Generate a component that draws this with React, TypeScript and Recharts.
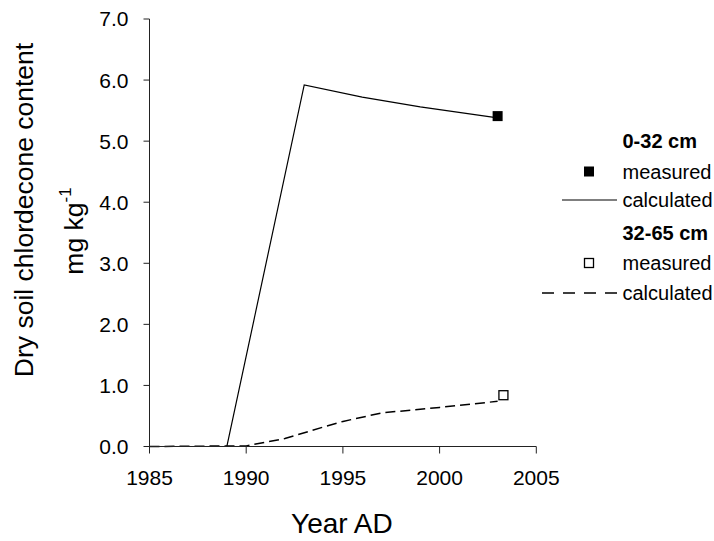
import React from "react";
import {
  ComposedChart,
  Line,
  Scatter,
  XAxis,
  YAxis,
  Label,
} from "recharts";

// Calculated profiles (year, mg/kg)
const calcYears0to32 = [1985, 1989, 1993, 1996, 1999, 2003];
const calcValues0to32 = [0, 0, 5.92, 5.72, 5.56, 5.38];

const calcYears32to65 = [1985, 1990, 1992, 1994, 1995, 1997, 2000, 2003];
const calcValues32to65 = [0, 0.01, 0.13, 0.32, 0.41, 0.55, 0.64, 0.74];

// Measured samples
const measuredYears0to32 = [2003];
const measuredValues0to32 = [5.41];
const measuredYears32to65 = [2003.3];
const measuredValues32to65 = [0.84];

const xTicks = [1985, 1990, 1995, 2000, 2005];
const yTicks = [0, 1, 2, 3, 4, 5, 6, 7];

const legendGroups = ["0-32 cm", "32-65 cm"];
const legendItems = ["measured", "calculated"];

const toRows = (xs: number[], ys: number[]) =>
  xs.map((x, i) => ({ year: x, value: ys[i] }));

const calc0to32 = toRows(calcYears0to32, calcValues0to32);
const calc32to65 = toRows(calcYears32to65, calcValues32to65);
const meas0to32 = toRows(measuredYears0to32, measuredValues0to32);
const meas32to65 = toRows(measuredYears32to65, measuredValues32to65);

const FONT = "'Liberation Sans', Arial, Helvetica, sans-serif";

const FilledSquare = (props: any) => {
  const { cx, cy } = props;
  return <rect x={cx - 5} y={cy - 5} width={10} height={10} fill="#000" />;
};

const OpenSquare = (props: any) => {
  const { cx, cy } = props;
  return (
    <rect
      x={cx - 4.5}
      y={cy - 4.5}
      width={9}
      height={9}
      fill="#fff"
      stroke="#000"
      strokeWidth={1.3}
    />
  );
};

const YTitle = (props: any) => {
  const vb = props.viewBox || { x: 69.5, y: 19, width: 80, height: 427.5 };
  const x1 = vb.x - 37;
  const y1 = 210;
  const x2 = vb.x + 13;
  const y2 = 231;
  return (
    <g fontFamily={FONT} fontSize={26.5} fill="#000">
      <text
        x={x1}
        y={y1}
        textAnchor="middle"
        transform={`rotate(-90 ${x1} ${y1})`}
      >
        Dry soil chlordecone content
      </text>
      <text
        x={x2}
        y={y2}
        textAnchor="middle"
        transform={`rotate(-90 ${x2} ${y2})`}
      >
        mg kg
        <tspan fontSize={17} dy={-12}>
          -1
        </tspan>
      </text>
    </g>
  );
};

const XTitle = (props: any) => {
  const vb = props.viewBox || { x: 149.5, y: 446.5, width: 387, height: 60 };
  return (
    <text
      x={vb.x + vb.width / 2 - 1}
      y={533}
      textAnchor="middle"
      fontFamily={FONT}
      fontSize={28}
      fill="#000"
    >
      Year AD
    </text>
  );
};

// Key drawn beside the plot, rows listed top to bottom
const LegendBox = () => {
  const rowY = [141, 171.5, 200, 233, 263, 293];
  const top = 120;
  const textX = 92.5;
  const markX = 59;
  const baseline = (c: number) => c - top + 7;
  return (
    <svg width={184} height={190} style={{ display: "block" }}>
      <g fontFamily={FONT} fontSize={20} fill="#000">
        <text x={textX} y={baseline(rowY[0])} fontWeight="bold">
          {legendGroups[0]}
        </text>
        <rect
          x={markX - 5}
          y={rowY[1] - top - 5}
          width={10}
          height={10}
          fill="#000"
        />
        <text x={textX} y={baseline(rowY[1])}>
          {legendItems[0]}
        </text>
        <line
          x1={32}
          x2={87}
          y1={rowY[2] - top}
          y2={rowY[2] - top}
          stroke="#000"
          strokeWidth={1.2}
        />
        <text x={textX} y={baseline(rowY[2])}>
          {legendItems[1]}
        </text>
        <text x={textX} y={baseline(rowY[3])} fontWeight="bold">
          {legendGroups[1]}
        </text>
        <rect
          x={markX - 4.5}
          y={rowY[4] - top - 4.5}
          width={9}
          height={9}
          fill="#fff"
          stroke="#000"
          strokeWidth={1.3}
        />
        <text x={textX} y={baseline(rowY[4])}>
          {legendItems[0]}
        </text>
        <line
          x1={12}
          x2={87}
          y1={rowY[5] - top}
          y2={rowY[5] - top}
          stroke="#000"
          strokeWidth={1.6}
          strokeDasharray="12 9"
        />
        <text x={textX} y={baseline(rowY[5])}>
          {legendItems[1]}
        </text>
      </g>
    </svg>
  );
};

export default function App() {
  const tickStyle = { fontFamily: FONT, fontSize: 21, fill: "#000" };
  return (
    <div
      style={{
        position: "absolute",
        left: 0,
        top: 0,
        width: 714,
        height: 541,
        background: "#fff",
      }}
    >
      <ComposedChart
        width={714}
        height={541}
        margin={{ top: 19, right: 177.7, bottom: 34.5, left: 69.5 }}
      >
        <XAxis
          type="number"
          dataKey="year"
          domain={[1985, 2005]}
          ticks={xTicks}
          allowDataOverflow
          height={60}
          tick={tickStyle}
          tickSize={7}
          tickMargin={17}
          stroke="#222"
          tickLine={{ stroke: "#222" }}
        >
          <Label content={<XTitle />} />
        </XAxis>
        <YAxis
          type="number"
          dataKey="value"
          domain={[0, 7]}
          ticks={yTicks}
          width={80}
          tick={tickStyle}
          tickFormatter={(v: number) => v.toFixed(1)}
          tickSize={6}
          tickMargin={15}
          stroke="#222"
          tickLine={{ stroke: "#222" }}
        >
          <Label content={<YTitle />} />
        </YAxis>
        <Line
          data={calc32to65}
          dataKey="value"
          type="linear"
          stroke="#000"
          strokeWidth={1.5}
          strokeDasharray="10 5"
          dot={false}
          activeDot={false}
          isAnimationActive={false}
        />
        <Line
          data={calc0to32}
          dataKey="value"
          type="linear"
          stroke="#000"
          strokeWidth={1.2}
          dot={false}
          activeDot={false}
          isAnimationActive={false}
        />
        <Scatter
          data={meas0to32}
          dataKey="value"
          shape={<FilledSquare />}
          isAnimationActive={false}
        />
        <Scatter
          data={meas32to65}
          dataKey="value"
          shape={<OpenSquare />}
          isAnimationActive={false}
        />
      </ComposedChart>
      <div style={{ position: "absolute", left: 530, top: 120 }}>
        <LegendBox />
      </div>
    </div>
  );
}
